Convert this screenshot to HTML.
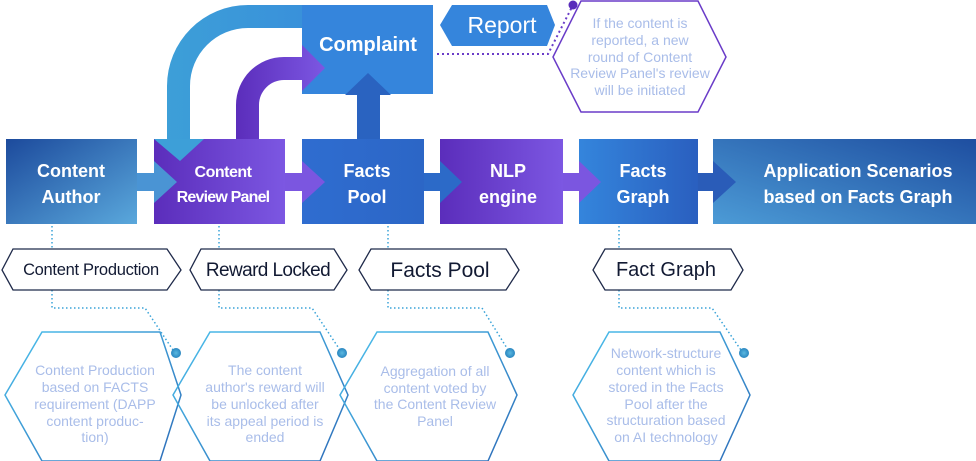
<!DOCTYPE html>
<html><head><meta charset="utf-8"><style>
html,body{margin:0;padding:0;background:#fff;}
svg{display:block;font-family:"Liberation Sans","DejaVu Sans",sans-serif;}
</style></head><body>
<svg width="976" height="461" viewBox="0 0 976 461" xmlns="http://www.w3.org/2000/svg">
<defs>
<linearGradient id="gA" x1="0" y1="0" x2="1" y2="1"><stop offset="0" stop-color="#1c4a9c"/><stop offset="1" stop-color="#5aa8dc"/></linearGradient>
<linearGradient id="gP" x1="0" y1="0" x2="1" y2="0"><stop offset="0" stop-color="#5b2dbb"/><stop offset="1" stop-color="#7c57e2"/></linearGradient>
<linearGradient id="gB" x1="0" y1="0" x2="1" y2="0"><stop offset="0" stop-color="#2f6dd0"/><stop offset="1" stop-color="#2c66c6"/></linearGradient>
<linearGradient id="gG" x1="0" y1="0" x2="1" y2="0"><stop offset="0" stop-color="#3485dc"/><stop offset="1" stop-color="#2a5fbf"/></linearGradient>
<linearGradient id="gApp" x1="0" y1="1" x2="1" y2="0"><stop offset="0" stop-color="#4c9bd6"/><stop offset="1" stop-color="#1e4ea0"/></linearGradient>
<linearGradient id="gArc" x1="0" y1="0" x2="1" y2="0"><stop offset="0" stop-color="#3d9fd8"/><stop offset="1" stop-color="#3583dc"/></linearGradient>
<linearGradient id="gHex" x1="0" y1="0" x2="1" y2="1"><stop offset="0" stop-color="#4cc0ec"/><stop offset="1" stop-color="#2c6cb8"/></linearGradient>
<radialGradient id="dot"><stop offset="0" stop-color="#5ab8e0"/><stop offset="1" stop-color="#2a86c0"/></radialGradient>
</defs>

<path d="M433 5 L248 5 A81 81 0 0 0 167 86 L167 150 L190 150 L190 86 A58 58 0 0 1 248 28 L433 28 Z" fill="url(#gArc)"/>
<rect x="302" y="5" width="131" height="89" fill="#3585dc"/>
<path d="M236 139 L236 105 A48 48 0 0 1 284 57 L302 57 L302 45 L325 68 L302 91 L302 80 L284 80 A25 25 0 0 0 259 105 L259 139 Z" fill="url(#gP)"/>

<rect x="6" y="139" width="131" height="85" fill="url(#gA)"/>
<rect x="154" y="139" width="131" height="85" fill="url(#gP)"/>
<rect x="302" y="139" width="122" height="85" fill="url(#gB)"/>
<rect x="440" y="139" width="123" height="85" fill="url(#gP)"/>
<rect x="579" y="139" width="119" height="85" fill="url(#gG)"/>
<rect x="713" y="139" width="263" height="85" fill="url(#gApp)"/>

<path d="M357 139 L357 95 L345 95 L368 73 L391 95 L380 95 L380 139 Z" fill="#2a63c0"/>
<path d="M154 139 L204 139 L180 161 Z" fill="#3d9fd8"/>

<path d="M137 173 L154 173 L154 161 L177 182 L154 203 L154 191 L137 191 Z" fill="#4a94d4"/>
<path d="M285 173 L302 173 L302 161 L325 182 L302 203 L302 191 L285 191 Z" fill="#7b56e0"/>
<path d="M424 173 L440 173 L440 161 L462 182 L440 203 L440 191 L424 191 Z" fill="#2c6ac8"/>
<path d="M563 173 L579 173 L579 161 L601 182 L579 203 L579 191 L563 191 Z" fill="#7b56e0"/>
<path d="M698 173 L713 173 L713 161 L736 182 L713 203 L713 191 L698 191 Z" fill="#2a5cb8"/>

<g fill="#fff" font-weight="bold" text-anchor="middle" font-size="18">
<text x="71" y="177">Content</text><text x="71" y="203">Author</text>
<text x="223" y="177" font-size="16" letter-spacing="-0.5">Content</text><text x="223" y="202" font-size="16" letter-spacing="-0.8">Review Panel</text>
<text x="367" y="177">Facts</text><text x="367" y="203">Pool</text>
<text x="508" y="177">NLP</text><text x="508" y="203">engine</text>
<text x="643" y="177">Facts</text><text x="643" y="203">Graph</text>
<text x="858" y="177">Application Scenarios</text><text x="858" y="203">based on Facts Graph</text>
<text x="368" y="51" font-size="20">Complaint</text>
</g>

<path d="M452 5 L547 5 L555 25 L547 46 L452 46 L440 25 Z" fill="#3585dc"/>
<text x="502" y="33" fill="#fff" font-size="23" text-anchor="middle">Report</text>
<path d="M437 54 L548 54 L573 5" fill="none" stroke="#6a3cc8" stroke-width="2" stroke-dasharray="2 3"/>
<circle cx="573" cy="5" r="4.5" fill="#5a2dbb"/>
<path d="M581 1 L698 1 L726 57 L698 112 L581 112 L553 57 Z" fill="none" stroke="#6a3cc8" stroke-width="1.5"/>
<g fill="#a9bde9" font-size="14" text-anchor="middle">
<text x="640" y="28">If the content is</text><text x="640" y="45">reported, a new</text><text x="640" y="62">round of Content</text><text x="640" y="78">Review Panel's review</text><text x="640" y="95">will be initiated</text>
</g>

<g fill="none" stroke="#3aa3d8" stroke-width="1.5" stroke-dasharray="1.5 2.5">
<path d="M52 226 L52 249 M52 290 L52 308 L145 308 L175 353"/>
<path d="M219 226 L219 249 M219 290 L219 308 L312 308 L342 353"/>
<path d="M388 226 L388 249 M388 290 L388 308 L482 308 L510 353"/>
<path d="M619 226 L619 249 M619 290 L619 308 L712 308 L743 353"/>
</g>
<g fill="url(#dot)"><circle cx="176" cy="353" r="5"/><circle cx="342" cy="353" r="5"/><circle cx="510" cy="353" r="5"/><circle cx="744" cy="353" r="5"/></g>

<g fill="#fff" stroke="#1f2a4a" stroke-width="1.3">
<path d="M13 249 L167 249 L181 270 L167 290 L13 290 L2 270 Z"/>
<path d="M201 249 L334 249 L347 270 L334 290 L201 290 L190 270 Z"/>
<path d="M371 249 L506 249 L519 270 L506 290 L371 290 L359 270 Z"/>
<path d="M605 249 L731 249 L743 270 L731 290 L605 290 L593 270 Z"/>
</g>
<g fill="#121a33" text-anchor="middle">
<text x="91" y="275" font-size="16.5" letter-spacing="-0.3">Content Production</text>
<text x="268" y="276" font-size="19" letter-spacing="-0.6">Reward Locked</text>
<text x="440" y="277" font-size="21">Facts Pool</text>
<text x="666" y="276" font-size="20">Fact Graph</text>
</g>

<g fill="none" stroke="url(#gHex)" stroke-width="1.5">
<path d="M42 332 L160 332 L181 395 L160 461 L42 461 L5 395 Z"/>
<path d="M210 332 L320 332 L348 395 L320 461 L210 461 L173 395 Z"/>
<path d="M377 332 L488 332 L517 395 L488 461 L377 461 L340 395 Z"/>
<path d="M609 332 L720 332 L750 395 L720 461 L609 461 L573 395 Z"/>
</g>
<g fill="#a9bde9" font-size="14" text-anchor="middle">
<text x="95" y="375">Content Production</text><text x="95" y="392">based on FACTS</text><text x="95" y="409">requirement (DAPP</text><text x="95" y="426">content produc-</text><text x="95" y="442">tion)</text>
<text x="265" y="375">The content</text><text x="265" y="392">author's reward will</text><text x="265" y="409">be unlocked after</text><text x="265" y="426">its appeal period is</text><text x="265" y="442">ended</text>
<text x="435" y="376">Aggregation of all</text><text x="435" y="393">content voted by</text><text x="435" y="409">the Content Review</text><text x="435" y="426">Panel</text>
<text x="666" y="358">Network-structure</text><text x="666" y="375">content which is</text><text x="666" y="392">stored in the Facts</text><text x="666" y="409">Pool after the</text><text x="666" y="425">structuration based</text><text x="666" y="442">on AI technology</text>
</g>
</svg>
</body></html>
